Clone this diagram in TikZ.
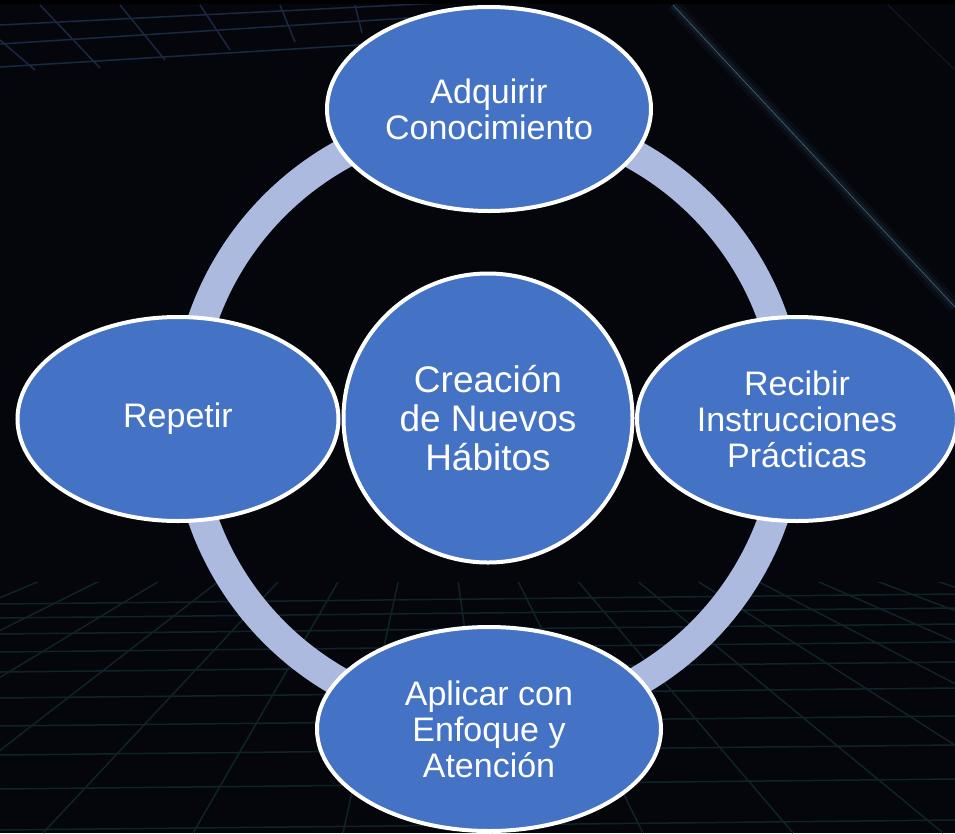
\documentclass[tikz,border=0pt]{standalone}
\usepackage{fontspec}
\setmainfont{Liberation Sans}
\usetikzlibrary{shapes.geometric}
\definecolor{bgc}{HTML}{04060B}
\definecolor{nodeblue}{HTML}{4472C4}
\definecolor{ringc}{HTML}{ADBADF}
\definecolor{floorgrid}{HTML}{0F2329}
\definecolor{topgrid}{HTML}{1B2842}
\definecolor{streak}{HTML}{2F4A66}
\definecolor{streakcore}{HTML}{3E5A6A}
\begin{document}
\begin{tikzpicture}[x=1pt,y=-1pt,
  stage/.style={ellipse, draw=white, line width=4pt, fill=nodeblue, text=white,
    align=center, inner sep=0pt, minimum height=204pt,
    font=\fontsize{34}{36}\selectfont},
  hub/.style={circle, draw=white, line width=4pt, fill=nodeblue, text=white,
    align=center, inner sep=0pt, minimum size=289pt,
    font=\fontsize{37}{39}\selectfont},
  ringline/.style={draw=ringc, line width=30pt},
  floorline/.style={draw=floorgrid, line width=1.5pt},
  topline/.style={draw=topgrid, line width=1.5pt}]
\useasboundingbox (0,0) rectangle (955,833);
\fill[bgc] (0,0) rectangle (955,833);
\fill[black] (0,0) rectangle (955,4);
% floor grid
\begin{scope}
  \clip (0,582) rectangle (955,833);
  \foreach \y in {600,614,630,648,668,694,722,751,785,826}
    \draw[floorline] (0,\y+4) -- (955,\y-6);
  \foreach \k in {-9,...,12}
    \draw[floorline] (435,414) -- ({43+150*\k},833);
\end{scope}
% top grid
\begin{scope}
  \clip (0,4) rectangle (480,90);
  \draw[topline] (0,25) -- (440,3);
  \draw[topline] (0,44) -- (440,16);
  \draw[topline] (0,67) -- (440,40);
  \draw[topline] (40,5) -- (100,68);
  \draw[topline] (120,5) -- (165,60);
  \draw[topline] (200,5) -- (230,50);
  \draw[topline] (280,5) -- (295,42);
  \draw[topline] (355,5) -- (362,33);
  \draw[topline] (0,40) -- (35,70);
\end{scope}
% light streaks
\begin{scope}
  \clip (0,4) rectangle (955,833);
  \draw[streak, opacity=0.10, line width=14pt] (673,5) -- (955,307);
  \draw[streak, opacity=0.18, line width=7pt] (673,5) -- (955,307);
  \draw[streakcore, line width=0.8pt] (673,5) -- (955,307);
  \draw[streak, opacity=0.3, line width=1pt] (888,5) -- (955,70);
\end{scope}
% ring
\coordinate (ctr) at (488,419);
\draw[ringline] (ctr) circle[radius=302];
% nodes
\node[hub] (hub) at (488,418) {Creación\\de Nuevos\\Hábitos};
\node[stage, minimum width=324pt] (know) at (489,109) {Adquirir\\Conocimiento};
\node[stage, minimum width=320pt] (instr) at (797,419) {Recibir\\Instrucciones\\Prácticas};
\node[stage, minimum width=344pt] (apply) at (489,729) {Aplicar con\\Enfoque y\\Atención};
\node[stage, minimum width=321pt] (rep) at (178,419) {Repetir};
\end{tikzpicture}
\end{document}
